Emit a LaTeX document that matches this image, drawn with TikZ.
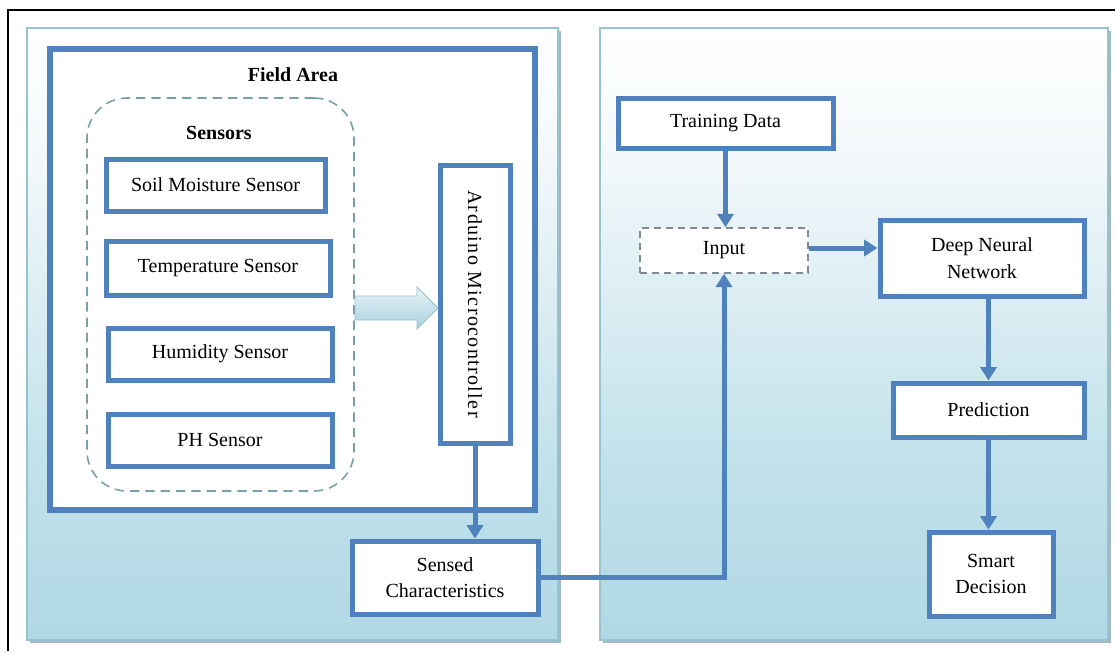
\documentclass[tikz,border=0pt]{standalone}
\usepackage{fontspec}
\setmainfont{Liberation Serif}
\usetikzlibrary{arrows.meta}
\definecolor{bl}{RGB}{79,129,189}
\definecolor{pb}{RGB}{176,216,228}
\definecolor{pq}{RGB}{194,226,235}
\definecolor{pm}{RGB}{214,235,241}
\definecolor{pw}{RGB}{242,248,250}
\definecolor{pedge}{RGB}{150,195,205}
\definecolor{shd}{RGB}{165,185,192}
\definecolor{dashc}{RGB}{120,160,172}
\definecolor{inpc}{RGB}{128,138,150}
\definecolor{harrt}{RGB}{232,244,248}
\definecolor{harrb}{RGB}{168,208,220}
\definecolor{harre}{RGB}{150,190,204}
\pgfdeclareverticalshading{panelshade}{100bp}{color(0bp)=(pb); color(25bp)=(pb); color(40bp)=(pq); color(50bp)=(pm); color(64bp)=(pw); color(75bp)=(white); color(100bp)=(white)}
\tikzset{
  bx/.style={draw=bl, line width=3.75pt, fill=white, align=center, inner sep=2pt},
  arr/.style={draw=bl, line width=3.75pt, -{Triangle[width=12pt,length=10pt]}},
  panel/.style={shading=panelshade, draw=pedge, line width=0.8pt},
  ttl/.style={font=\fontsize{15}{20}\selectfont\bfseries},
}
\begin{document}
\begin{tikzpicture}[x=0.75pt, y=-0.75pt, font=\fontsize{15}{20}\selectfont]
\useasboundingbox (0,0) rectangle (1115,651);
% outer frame
\draw[black, line width=1.2pt] (8,651) -- (8,10) -- (1115,10);
% panels
\fill[shd] (30,31) rectangle (561,643);
\shadedraw[panel] (27,28) rectangle (558,640);
\fill[shd] (603,31) rectangle (1111,643);
\shadedraw[panel] (600,28) rectangle (1108,640);
% field area
\node[bx, line width=4.5pt, minimum width=485*0.75pt, minimum height=461*0.75pt] (field) at (292.5,279.5) {};
\node[ttl] (fieldt) at (293,75) {Field Area};
% sensors group
\node[draw=dashc, line width=1.2pt, dash pattern=on 7pt off 4.5pt, rounded corners=30pt, minimum width=267*0.75pt, minimum height=393*0.75pt] (sens) at (220.5,294.5) {};
\node[ttl] (senst) at (219,133) {Sensors};
\node[bx, minimum width=219*0.75pt, minimum height=52*0.75pt] (soil) at (215.5,185) {Soil Moisture Sensor};
\node[bx, minimum width=224*0.75pt, minimum height=54*0.75pt] (temp) at (218,268) {Temperature Sensor};
\node[bx, minimum width=224*0.75pt, minimum height=52*0.75pt] (hum) at (220,354) {Humidity Sensor};
\node[bx, minimum width=224*0.75pt, minimum height=52*0.75pt] (ph) at (220,440) {PH Sensor};
% arduino
\node[bx, rotate=-90, minimum width=278*0.75pt, minimum height=70*0.75pt] (ard) at (475,304) {\addfontfeatures{LetterSpace=7}Arduino Microcontroller};
% hollow arrow
\path[top color=harrt, bottom color=harrb, draw=harre, line width=0.6pt]
  (355,296) -- (417,296) -- (417,287) -- (438,308) -- (417,329) -- (417,320) -- (355,320) -- cycle;
% sensed
\node[bx, minimum width=186*0.75pt, minimum height=73*0.75pt] (sensed) at (445,577.5) {Sensed\\Characteristics};
% right side
\node[bx, minimum width=215*0.75pt, minimum height=50*0.75pt] (train) at (725.5,123) {Training Data};
\node[draw=inpc, fill=white, line width=1.2pt, dash pattern=on 5.5pt off 3.5pt, minimum width=168*0.75pt, minimum height=45*0.75pt] (input) at (724,250.5) {Input};
\node[bx, minimum width=204*0.75pt, minimum height=76*0.75pt] (dnn) at (982,258) {Deep Neural\\Network};
\node[bx, minimum width=191*0.75pt, minimum height=54*0.75pt] (pred) at (988.5,410) {Prediction};
\node[bx, minimum width=124*0.75pt, minimum height=84*0.75pt] (smart) at (991,574) {Smart\\Decision};
% connectors
\draw[arr] (ard.east) -- (ard.east |- sensed.north);
\draw[arr] (sensed.east) -| (input.south);
\draw[arr] (train.south) -- (train.south |- input.north);
\draw[arr] (input.east |- 0,248) -- (dnn.west |- 0,248);
\draw[arr] (dnn.south -| pred.north) -- (pred.north);
\draw[arr] (pred.south) -- (pred.south |- smart.north);
\end{tikzpicture}
\end{document}
